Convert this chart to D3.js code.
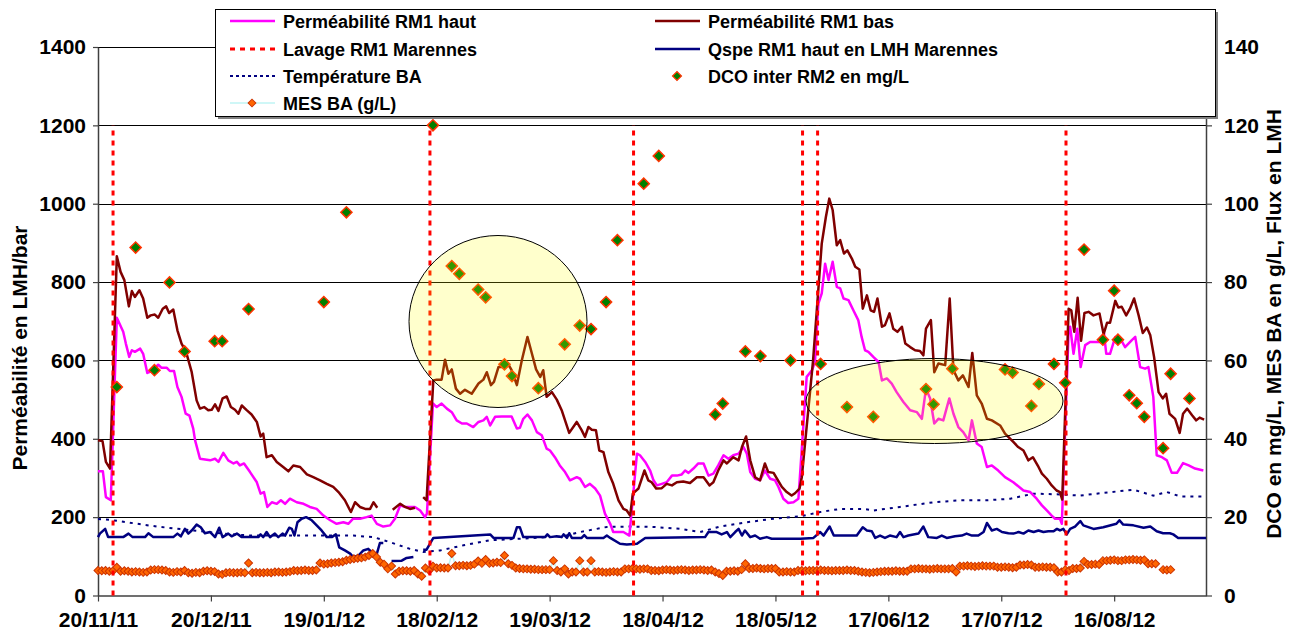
<!DOCTYPE html>
<html>
<head>
<meta charset="utf-8">
<script src="https://cdn.jsdelivr.net/npm/d3@7"></script>
<style>
  body { margin: 0; background: #fff; }
  text { font-family: "Liberation Sans", Arial, sans-serif; font-weight: bold; fill: #000; }
</style>
</head>
<body>
<svg id="chart" width="1294" height="636"></svg>
<script>
// ---- Données (jour = nombre de jours depuis le 20/11/2011) ----
const dateDebut = Date.UTC(2011, 10, 20);

// Perméabilité RM1 haut (LMH/bar) : [jour, valeur]
const permHaut = [[0,317],[1.3,317],[2.1,251],[3.4,243],[5,709],[6.7,673],[7.4,643],[8.3,609],[9,626],[9.8,622],[11.2,630],[12,617],[13.1,568],[14.3,573],[16,589],[16.9,581],[18.3,581],[19.1,573],[20.2,573],[21.1,532],[22.2,507],[23.3,464],[24.3,459],[25.3,426],[25.8,396],[27.1,349],[29.8,345],[31.1,349],[32,341],[33.3,364],[34.6,345],[36,337],[36.9,341],[37.7,332],[38.8,337],[40.4,315],[42.2,289],[43.2,260],[44.1,264],[45,226],[46.2,238],[47.5,234],[48.6,243],[49.7,234],[51,247],[52.8,238],[54.6,234],[56.3,226],[58.1,221],[59.9,204],[61.7,192],[63.4,183],[65.2,187],[66.5,183],[67.8,196],[69.6,196],[71.4,200],[72.7,204],[74.1,183],[75.8,176],[77.6,179],[78.9,196],[80.3,230],[81.6,226],[84.2,226],[85.6,217],[86.9,200],[87.4,209],[89,490],[90,481],[91.3,490],[92.7,477],[94,468],[95.3,447],[96.7,439],[98,439],[99.7,430],[101.1,443],[102.4,447],[103.3,456],[104.2,434],[105.5,456],[107.3,457],[109.9,457],[111.3,426],[112.1,428],[113,451],[114.1,462],[115.3,447],[116.6,417],[117.9,409],[119.2,375],[120.1,370],[121.4,353],[122.7,332],[124.1,315],[125.4,294],[127.2,302],[128.1,298],[129.4,277],[130.7,285],[132.1,273],[133.4,255],[134.7,209],[136.1,183],[136.9,162],[139.6,162],[141.2,153],[143.2,362],[144,358],[145.4,341],[146.7,319],[147.6,294],[148.5,281],[149.8,285],[151.1,289],[152.5,306],[153.8,306],[155.1,309],[156,319],[156.9,313],[158.2,324],[159.5,337],[160.9,337],[162.2,306],[163.5,311],[164.8,332],[166.2,358],[167.5,349],[168.8,358],[170.2,362],[171.5,379],[172.4,362],[173.3,315],[174.6,298],[175.9,294],[177.2,319],[178.6,298],[179.9,294],[180.8,277],[182.1,247],[183.4,236],[184.8,238],[186.1,247],[188.3,558],[189.7,575],[190.5,596],[191.4,745],[192.3,771],[193.2,847],[194.1,805],[195.2,852],[196.3,788],[197.2,784],[198.1,758],[199.4,754],[200.7,728],[202,703],[202.9,660],[203.8,626],[204.7,622],[206,609],[207.4,596],[208.3,549],[209.6,554],[210.9,541],[212.2,519],[214,494],[215.8,473],[217.6,468],[218.9,451],[220,528],[221.1,503],[222.2,439],[223.3,451],[224.6,447],[226.2,503],[227.3,464],[228.6,430],[229.9,417],[231.3,396],[232.2,447],[233.5,388],[234.8,379],[236.2,328],[237.5,332],[239.2,319],[241,302],[243.2,289],[245.9,268],[247.7,264],[249.4,247],[250.8,230],[252.1,217],[253.4,204],[254.3,196],[255.6,196],[256.1,183],[257.9,677],[258.3,686],[259.2,617],[260.2,681],[261.1,583],[262.3,639],[263.6,647],[266.3,647],[267.3,669],[267.9,617],[268.9,617],[270.3,660],[271.6,656],[272.9,634],[274.7,652],[275.6,660],[276.9,583],[278.2,579],[279.1,583],[280.4,507],[281.3,358],[282.7,353],[284,345],[285.3,313],[286.7,313],[288.3,338],[289.8,332],[291.5,324],[293.7,319]];

// Perméabilité RM1 bas (LMH/bar) : [jour, valeur], null = pas de mesure
const permBas = [[0,396],[1.2,394],[2.1,341],[3.2,324],[5,866],[6,826],[7,805],[8.2,738],[9,777],[9.8,762],[11,779],[12,758],[13.1,709],[14,715],[15.1,717],[16,709],[17.2,732],[18.1,738],[18.9,721],[20,730],[21.1,677],[22.2,643],[23.4,622],[24.9,570],[26.2,498],[27.1,477],[28.2,481],[29.3,473],[30.2,474],[31.1,488],[32,471],[33.1,503],[34.2,508],[35.3,481],[36.4,474],[37.3,464],[38.2,485],[39.5,473],[40.8,462],[42.2,443],[43.2,406],[43.9,413],[44.8,353],[46.2,358],[47.5,341],[49.2,328],[50.6,317],[51.9,332],[53.7,328],[55.5,309],[57.2,302],[59,294],[60.8,285],[62.5,277],[63.9,264],[65.6,243],[67.2,213],[68.3,238],[69.6,226],[71,221],[72.3,221],[73.2,238],[74.2,224],null,[78.3,219],[80.3,234],[81.6,226],[82.9,221],[84.2,224],null,[86.4,251],[87.3,243],[89.1,549],[90,551],[91.3,551],[92.2,602],[93.1,566],[94,577],[95.1,528],[96.2,515],[97.5,525],[99.3,515],[101.1,541],[102.4,551],[103.3,570],[104.4,537],[105.2,545],[106.4,583],[107.7,583],[108.8,594],[109.9,575],[111.3,537],[112.6,600],[114.1,660],[115.3,617],[116.4,577],[117.5,558],[118.3,575],[119.2,507],[120.6,519],[121.9,500],[123.2,473],[125.2,415],[127.2,443],[128.5,422],[129.4,405],[130.3,430],[131.2,423],[132.3,422],[133.2,370],[134.3,366],[135.6,315],[136.9,285],[138.3,243],[139.6,221],[140.5,217],[141.4,204],[142.1,260],[143.6,273],[145.2,319],[146.2,294],[147.1,289],[148.3,273],[149.8,274],[151.1,285],[152.5,281],[153.8,289],[155.5,291],[157.3,287],[159.1,302],[160.9,302],[162.5,281],[163.5,289],[164.8,319],[166.2,345],[167.1,337],[168.8,353],[170.2,345],[171.1,379],[172.2,406],[173.3,345],[174.6,302],[175.9,294],[177.2,337],[178.1,315],[179.5,313],[180.4,298],[181.7,277],[183,264],[184.3,255],[185.2,261],[186.4,273],[187,302],[190,600],[192.3,898],[193.4,966],[194.3,1013],[195.2,984],[196.3,894],[197.2,907],[198.2,873],[199.1,881],[200.3,860],[201.2,839],[202.3,832],[203.2,732],[204.3,766],[205.3,728],[206.2,724],[207.1,758],[208.3,686],[209.1,690],[210.3,720],[211.3,681],[212.4,673],[213.6,686],[214.5,643],[215.8,634],[217.1,626],[218.4,624],[219.3,613],[220,681],[221.3,703],[222.2,570],[223.3,592],[225.1,588],[226.3,758],[227.3,575],[228.6,549],[229.8,562],[231.3,532],[232.3,619],[233.5,511],[234.8,490],[236.2,451],[237.5,447],[239.7,434],[241,413],[243.2,392],[244.5,379],[245.9,370],[247.2,345],[248.4,353],[249.9,328],[250.8,311],[252.1,298],[253.4,281],[254.7,268],[255.6,264],[256.2,245],[257.9,732],[258.6,728],[259.4,673],[260.3,760],[261.2,650],[262.1,721],[263.2,724],[264.5,715],[266.1,720],[267.2,667],[268.1,696],[268.9,696],[270.3,752],[271.1,735],[272,737],[273.2,715],[274.2,732],[275.3,758],[276.5,715],[277.6,670],[278.7,684],[279.6,664],[280.6,609],[281.8,519],[282.9,503],[283.8,515],[284.7,464],[286.2,451],[287.4,415],[288.3,464],[289.4,477],[290.7,460],[291.8,447],[292.7,454],[293.9,449]];

// Lavages RM1 Marennes (jour)
const lavages = [4, 88.2, 142.3, 187.2, 191.2, 257.2];

// Qspe RM1 haut en LMH (axe de droite) : [jour, valeur]
const qspe = [[0,14.9],[0.5,15.8],[1.9,17],[2.7,14.9],[6.7,14.9],[8.1,15.8],[9.2,14.9],[12.5,14.9],[13.4,15.9],[14.7,14.9],[20,14.9],[21.1,15.8],[22,15.1],[23.1,17],[24,15.8],[24.9,16.6],[26.2,18.1],[27.3,17.4],[28.4,15.9],[29.8,16.2],[31.1,14.9],[32.2,17.3],[33.1,14.9],[34.6,15.8],[35.5,15.1],[36.9,15.8],[38.2,14.9],[42.6,14.9],[43.2,15.6],[43.9,14.9],[44.8,16.2],[45.7,14.9],[47,15.8],[47.9,14.9],[49.1,15.8],[49.7,15.3],[50.8,17.3],[51.5,17],[52.2,15.3],[53,18.7],[54.1,19.6],[55.3,20],[56.8,19.2],[58.1,17.9],[59.4,16.6],[60.8,14.9],[62.1,14.9],[63.2,15.6],[64.1,12.3],[65.6,11.5],[67,10.7],[67.8,9.8],[69.2,10.2],[70.5,11.5],[71.8,11.9],[72.7,11.1],[74.1,10.7],[74.9,13.4],[75.8,13.4],null,[78,8.8],[80.7,8.9],[82,9.6],[83.8,9.8],null,[86.4,11.7],[87.3,11.7],[89.1,14.7],[104.2,15.6],[105.1,14.7],[110.4,14.7],[111.3,17.4],[112.1,17.4],[113,14.9],[118.8,14.9],[119.4,15.6],[120.1,14.9],[121.9,15.1],[123.2,14.9],[123.7,15.6],[124.6,14.7],[125.2,15.9],[125.9,14.7],[128.5,14.7],[129.2,15.4],[129.9,14.7],[134.3,14.7],[135.2,15.3],[136.1,14.7],[138.7,13.2],[140.5,13],[143.2,13.2],[145.4,14.7],[161.3,14.9],[162.2,16.2],[164.4,16.2],[165.7,15.6],[167.1,16.2],[168,14.9],[169.3,16.2],[170.2,17],[171.1,15.3],[171.9,16.6],[173.3,14.9],[174.6,15.3],[175.9,14.5],[177.7,14.9],[179,14.5],[186.6,14.5],[190.1,14.7],[191.9,16.2],[192.8,15.3],[194.4,17.6],[195.5,15.3],[201.6,15.3],[203.2,17.4],[204.3,16.6],[205.6,16.4],[206.5,14.7],[207.8,15.3],[209.1,14.7],[210.4,15.3],[212.2,14.9],[213.1,16.2],[214,14.9],[215.3,15.3],[218,15.8],[219.3,17.6],[220.6,14.9],[222.9,14.7],[224.2,15.3],[225.5,14.7],[227.7,15.1],[229.5,15.3],[230.8,15.8],[232.2,15.3],[233.9,15.3],[235.3,16.2],[236.2,18.5],[237.5,16.6],[238.8,17],[240.2,16.2],[241.9,15.9],[243.2,15.8],[244.6,16.2],[245.9,15.8],[247.2,16.6],[248.6,16.2],[249.9,16.6],[251.2,16.2],[252.5,16.4],[253.9,16.4],[254.8,17],[255.6,16.6],[256.5,17],[257.4,15.6],[258.3,17],[259.6,17.6],[261,19],[261.8,17.9],[264.5,17],[267.1,17.4],[270.6,18.3],[271.4,19.2],[272.4,18.1],[275.1,17.9],[277.8,17.3],[279.6,17.6],[281.3,16.4],[283,15.9],[284.8,15.9],[285.7,15.6],[287,14.7],[294.4,14.7]];

// Température BA (axe de droite) : [jour, valeur]
const temperature = [[0,19.5],[3.2,19.3],[15.6,17.6],[25.3,16.6],[33.3,15.8],[40.4,15.3],[51,15.3],[61.7,15.3],[67.8,15.3],[73.2,14.9],[77.6,13.6],[82.9,11.9],[86.4,11.1],[90.9,11.5],[97.1,12.8],[104.2,14.1],[112.1,14.5],[123.7,15.1],[128.1,16.2],[135.2,17.5],[141.4,17.6],[147.6,17.5],[154.7,17],[160,16.2],[165.3,17.6],[172.4,18.7],[179.5,19.6],[186.6,20.2],[191.9,21.3],[197.2,22.1],[203.4,22.1],[206,21.7],[213.1,22.6],[222,23.8],[229.1,24.3],[236.2,24.3],[242.4,24.7],[248.6,26],[255.6,25.8],[261,25.5],[266.3,26.1],[275.1,27],[280.4,25.5],[284,26.4],[287.5,25.3],[294.4,25.3]];

// DCO inter RM2 en mg/L (axe de droite) : [jour, valeur]
const dco = [[5,53.2],[10,88.8],[15,57.5],[19,79.9],[23,62.3],[31,64.9],[33,64.9],[40,73.1],[60,74.9],[66,97.8],[89,120],[94,84.1],[96,82.1],[101,78.1],[103,76.1],[108,59],[110,56],[117,52.9],[124,64.1],[128,68.9],[131,68],[135,74.9],[138,90.7],[145,105.1],[149,112.2],[164,46.2],[166,49],[172,62.3],[176,61.1],[184,60],[192,59.1],[199,48.1],[206,45.6],[220,52.7],[222,48.8],[227,57.9],[241,57.7],[243,56.9],[248,48.4],[250,54],[254,59.1],[257,54.3],[262,88.3],[267,65.3],[270,77.8],[271,65.3],[274,51.1],[276,49.1],[278,45.6],[283,37.6],[285,56.6],[290,50.3]];

// MES BA en g/L (axe de droite), une valeur par jour à partir du jour 0
const mesBA = [6.4,6.3,6.4,6.2,6.3,7.2,6.2,6.3,6.2,6.0,6.1,6.0,5.9,6.0,6.5,6.6,6.6,6.5,6.4,6.0,5.9,6.1,6.0,6.4,5.8,5.7,5.9,5.8,6.2,6.3,6.2,6.1,5.5,5.4,5.8,5.9,5.8,5.8,5.9,5.8,8.3,5.8,5.9,5.8,5.8,5.9,5.8,6.0,6.0,5.9,6.0,6.1,6.4,6.3,6.4,6.5,6.4,6.4,6.5,8.3,8.0,8.1,8.3,8.4,8.5,8.6,9.0,9.2,9.4,9.5,9.6,9.8,10.2,10.7,9.8,8.5,8.0,6.8,7.5,5.5,6.2,6.3,6.3,6.2,6.4,5.5,4.9,7.0,6.4,7.5,7.0,7.1,7.0,7.0,10.7,7.6,7.6,7.7,7.6,7.7,8.0,8.8,8.2,9.2,8.2,8.3,8.5,8.4,10.2,8.1,7.7,7.0,6.9,6.8,6.8,6.7,6.7,6.6,6.6,6.6,6.6,8.9,6.4,6.0,6.8,5.5,6.0,6.0,8.9,6.0,6.0,8.9,6.0,6.1,6.0,5.9,6.0,6.1,6.0,6.0,6.8,6.8,6.9,6.8,6.7,6.8,6.8,6.4,6.4,6.3,6.5,6.6,6.5,6.4,6.5,6.6,6.5,6.4,6.5,6.5,6.6,6.5,6.4,6.5,6.0,5.6,5.1,6.2,6.2,6.3,6.2,6.6,8.1,6.9,6.9,7.0,6.9,6.8,6.9,6.9,6.9,6.0,6.0,6.1,6.0,6.0,6.4,6.4,6.3,6.4,6.4,6.4,6.5,6.4,6.4,6.3,6.4,6.4,6.4,6.5,6.4,6.4,6.2,6.0,5.9,5.8,5.9,6.0,6.1,6.2,6.2,6.2,6.3,6.2,6.2,6.2,6.8,6.8,6.9,6.8,6.8,6.7,6.8,6.9,6.8,6.8,6.8,6.9,6.0,7.5,7.5,7.6,7.5,7.4,7.5,7.6,7.5,7.5,7.5,7.2,7.2,7.3,7.2,7.1,7.2,7.8,7.8,7.9,7.8,7.2,7.2,7.3,7.2,7.2,7.1,6.0,6.0,6.6,6.4,6.9,6.9,7.0,8.7,7.9,7.9,8.0,7.9,8.9,8.9,9.0,9.1,8.9,8.9,9.1,9.1,9.2,9.1,9.0,9.1,8.1,8.1,8.1,null,6.6,6.5,6.6];

// Graduations
const graduationsGauche = d3.range(0, 1401, 200);
const graduationsDroite = d3.range(0, 141, 20);
const graduationsJours = d3.range(0, 295, 30);

// ---- Mise en page ----
const svg = d3.select("#chart");
const jourEnDate = j => new Date(dateDebut + j * 864e5);
const x = d3.scaleUtc().domain([jourEnDate(0), jourEnDate(294.4)]).range([98, 1206]);
const yG = d3.scaleLinear().domain([0, 1400]).range([595.5, 47]);
const yD = d3.scaleLinear().domain([0, 140]).range([595.5, 47]);
const fmt = d3.utcFormat("%d/%m/%y");

// Quadrillage horizontal
svg.append("g").selectAll("line").data(graduationsGauche.filter(v => v > 0)).join("line")
  .attr("x1", 98).attr("x2", 1206)
  .attr("y1", d => Math.round(yG(d)) + 0.5).attr("y2", d => Math.round(yG(d)) + 0.5)
  .attr("stroke", "#000").attr("stroke-width", 1);

// Axes
function styleAxe(g) {
  g.select(".domain").attr("stroke", "#404040").attr("stroke-width", 1.5);
  g.selectAll(".tick line").attr("stroke", "#404040").attr("stroke-width", 1.2);
  g.selectAll("text").attr("font-size", 21).attr("font-family", '"Liberation Sans", Arial, sans-serif').attr("font-weight", "bold").attr("fill", "#000");
}
svg.append("g").attr("transform", "translate(98,0)")
  .call(d3.axisLeft(yG).tickValues(graduationsGauche).tickSize(5).tickPadding(7).tickSizeOuter(0).tickFormat(d3.format("d")))
  .call(styleAxe);
svg.append("g").attr("transform", "translate(1206,0)")
  .call(d3.axisRight(yD).tickValues(graduationsDroite).tickSize(6).tickPadding(12).tickSizeOuter(0).tickFormat(d3.format("d")))
  .call(styleAxe);
svg.append("g").attr("transform", "translate(0,595.5)")
  .call(d3.axisBottom(x).tickValues(graduationsJours.map(jourEnDate)).tickSize(6).tickPadding(11).tickSizeOuter(0).tickFormat(fmt))
  .call(styleAxe);

// Titres des axes
svg.append("text").attr("transform", "translate(27,348) rotate(-90)")
  .attr("text-anchor", "middle").attr("font-size", 21).text("Perméabilité en LMH/bar");
svg.append("text").attr("transform", "translate(1281,324) rotate(-90)")
  .attr("text-anchor", "middle").attr("font-size", 21).text("DCO en mg/L, MES BA en g/L, Flux en LMH");

// Générateurs de lignes
const ligneG = d3.line().defined(d => d !== null).x(d => x(jourEnDate(d[0]))).y(d => yG(d[1]));
const ligneD = d3.line().defined(d => d !== null).x(d => x(jourEnDate(d[0]))).y(d => yD(d[1]));

const series = svg.append("g");

// Température BA (pointillés)
series.append("path").attr("d", ligneD(temperature))
  .attr("fill", "none").attr("stroke", "#000080").attr("stroke-width", 2).attr("stroke-dasharray", "3,5");

// Qspe RM1 haut
series.append("path").attr("d", ligneD(qspe))
  .attr("fill", "none").attr("stroke", "#000080").attr("stroke-width", 2.5).attr("stroke-linejoin", "round");

// MES BA : ligne cyan pâle et marqueurs losanges
const mesPoints = mesBA.map((v, j) => v === null ? null : [j, v]);
series.append("path").attr("d", ligneD(mesPoints))
  .attr("fill", "none").attr("stroke", "#bff5f5").attr("stroke-width", 1.5);
const losange = (taille) => d3.symbol(d3.symbolSquare, taille);
series.append("g").selectAll("path").data(mesPoints.filter(d => d !== null)).join("path")
  .attr("transform", d => `translate(${x(jourEnDate(d[0]))},${yD(d[1])}) rotate(45)`)
  .attr("d", losange(32)).attr("fill", "#ff6600").attr("stroke", "#cc3300").attr("stroke-width", 1);

// Perméabilités
series.append("path").attr("d", ligneG(permHaut))
  .attr("fill", "none").attr("stroke", "#ff00ff").attr("stroke-width", 2.5).attr("stroke-linejoin", "round");
series.append("path").attr("d", ligneG(permBas))
  .attr("fill", "none").attr("stroke", "#800000").attr("stroke-width", 2.5).attr("stroke-linejoin", "round");

// Lavages (verticales pointillées rouges de 0 à 1200)
series.append("g").selectAll("line").data(lavages).join("line")
  .attr("x1", d => x(jourEnDate(d))).attr("x2", d => x(jourEnDate(d)))
  .attr("y1", yG(0)).attr("y2", yG(1200))
  .attr("stroke", "#ff0000").attr("stroke-width", 3).attr("stroke-dasharray", "5,5");

// DCO inter RM2
series.append("g").selectAll("path").data(dco).join("path")
  .attr("transform", d => `translate(${x(jourEnDate(d[0]))},${yD(d[1])}) rotate(45)`)
  .attr("d", losange(62)).attr("fill", "#008000").attr("stroke", "#ff3300").attr("stroke-width", 1.5);

// Zones mises en évidence (ellipses jaunes translucides)
const zones = [{cx: 498, cy: 321.5, rx: 89, ry: 86}, {cx: 934.5, cy: 401, rx: 128.5, ry: 42.5}];
svg.append("g").selectAll("ellipse").data(zones).join("ellipse")
  .attr("cx", d => d.cx).attr("cy", d => d.cy).attr("rx", d => d.rx).attr("ry", d => d.ry)
  .attr("fill", "#ffff00").attr("fill-opacity", 0.2).attr("stroke", "#000").attr("stroke-width", 1);

// Légende
const leg = svg.append("g");
leg.append("rect").attr("x", 218).attr("y", 12).attr("width", 1000).attr("height", 107).attr("fill", "#808080");
leg.append("rect").attr("x", 215.5).attr("y", 9.5).attr("width", 1000).attr("height", 107)
  .attr("fill", "#fff").attr("stroke", "#000").attr("stroke-width", 1);

const entrees = [
  {col: 0, row: 0, label: "Perméabilité RM1 haut", type: "ligne", color: "#ff00ff", w: 2.5},
  {col: 1, row: 0, label: "Perméabilité RM1 bas", type: "ligne", color: "#800000", w: 2.5},
  {col: 0, row: 1, label: "Lavage RM1 Marennes", type: "ligne", color: "#ff0000", w: 3, dash: "5,5"},
  {col: 1, row: 1, label: "Qspe RM1 haut en LMH Marennes", type: "ligne", color: "#000080", w: 2.5},
  {col: 0, row: 2, label: "Température BA", type: "ligne", color: "#000080", w: 2, dash: "3,3"},
  {col: 1, row: 2, label: "DCO inter RM2 en mg/L", type: "dco"},
  {col: 0, row: 3, label: "MES BA (g/L)", type: "mes"}
];
const colX = [230, 655], rowY = [21, 49, 76, 103];
entrees.forEach(e => {
  const x0 = colX[e.col], yc = rowY[e.row];
  if (e.type === "ligne") {
    leg.append("line").attr("x1", x0).attr("x2", x0 + 45).attr("y1", yc).attr("y2", yc)
      .attr("stroke", e.color).attr("stroke-width", e.w).attr("stroke-dasharray", e.dash || null);
  } else if (e.type === "dco") {
    leg.append("path").attr("transform", `translate(${x0 + 22},${yc}) rotate(45)`)
      .attr("d", losange(40)).attr("fill", "#008000").attr("stroke", "#ff3300").attr("stroke-width", 1.2);
  } else {
    leg.append("line").attr("x1", x0).attr("x2", x0 + 45).attr("y1", yc).attr("y2", yc)
      .attr("stroke", "#bff5f5").attr("stroke-width", 1.5);
    leg.append("path").attr("transform", `translate(${x0 + 22},${yc}) rotate(45)`)
      .attr("d", losange(30)).attr("fill", "#ff6600").attr("stroke", "#cc3300").attr("stroke-width", 1);
  }
  leg.append("text").attr("x", x0 + 53).attr("y", yc + 6.5).attr("font-size", 18).text(e.label);
});
</script>
</body>
</html>
